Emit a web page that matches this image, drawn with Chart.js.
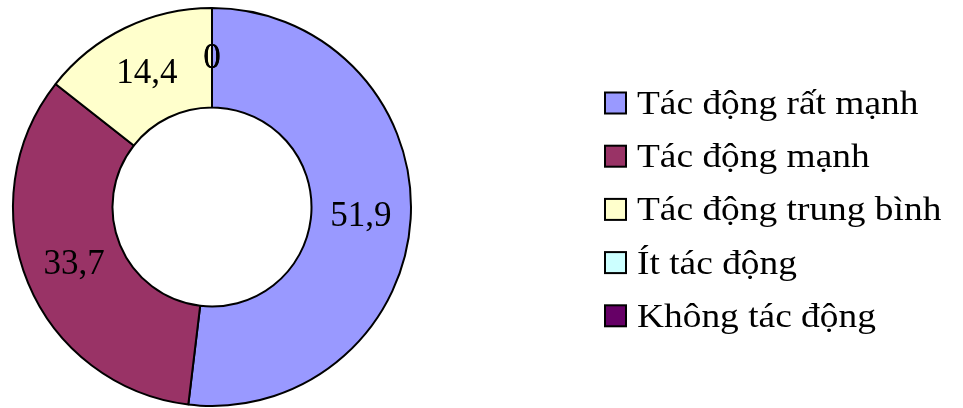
<!DOCTYPE html>
<html>
<head>
<meta charset="utf-8">
<script src="https://cdn.jsdelivr.net/npm/chart.js@4.4.1/dist/chart.umd.min.js"></script>
<style>
    html, body { margin: 0; padding: 0; background: #ffffff; }
    #wrap { width: 963px; height: 408px; }
</style>
</head>
<body>
<div id="wrap"><canvas id="ringChart"></canvas></div>
<script>
// Mức độ tác động (%)
const labels = ['Tác động rất mạnh', 'Tác động mạnh', 'Tác động trung bình', 'Ít tác động', 'Không tác động'];
const values = [51.9, 33.7, 14.4, 0, 0];
const sliceColors = ['#9999FF', '#993366', '#FFFFCC', '#CCFFFF', '#660066'];

const FONT = '"Liberation Serif", "Times New Roman", serif';

// Value labels in the middle of each ring segment, with comma decimals
const valueLabels = {
    id: 'valueLabels',
    afterDatasetsDraw(chart) {
        const ctx = chart.ctx;
        const meta = chart.getDatasetMeta(0);
        ctx.save();
        ctx.font = '35px ' + FONT;
        ctx.fillStyle = '#000';
        ctx.textAlign = 'center';
        ctx.textBaseline = 'alphabetic';
        meta.data.forEach((arc, i) => {
            const pos = arc.tooltipPosition();
            const txt = String(values[i]).replace('.', ',');
            ctx.fillText(txt, pos.x, pos.y + 10);
        });
        ctx.restore();
    }
};

// Legend drawn on the right side of the canvas
const sideLegend = {
    id: 'sideLegend',
    afterDraw(chart) {
        const ctx = chart.ctx;
        const boxX = 605, box = 21, textX = 637;
        const top = 103, step = 53.2;
        ctx.save();
        ctx.font = '34px ' + FONT;
        ctx.textBaseline = 'alphabetic';
        ctx.textAlign = 'left';
        labels.forEach((lab, i) => {
            const cy = top + i * step;
            ctx.fillStyle = sliceColors[i];
            ctx.fillRect(boxX, cy - box / 2, box, box);
            ctx.lineWidth = 2;
            ctx.strokeStyle = '#000';
            ctx.strokeRect(boxX, cy - box / 2, box, box);
            ctx.fillStyle = '#000';
            ctx.save();
            ctx.translate(textX, cy + 11);
            ctx.scale(1.1, 1);
            ctx.fillText(lab, 0, 0);
            ctx.restore();
        });
        ctx.restore();
    }
};

new Chart(document.getElementById('ringChart'), {
    type: 'doughnut',
    data: {
        labels: labels,
        datasets: [{
            data: values,
            backgroundColor: sliceColors,
            borderColor: '#000',
            borderWidth: 2
        }]
    },
    options: {
        responsive: true,
        maintainAspectRatio: false,
        animation: false,
        cutout: '50%',
        layout: { padding: { left: 12, right: 551, top: 7, bottom: 1 } },
        plugins: {
            legend: { display: false },
            tooltip: { enabled: false }
        }
    },
    plugins: [valueLabels, sideLegend]
});
</script>
</body>
</html>
